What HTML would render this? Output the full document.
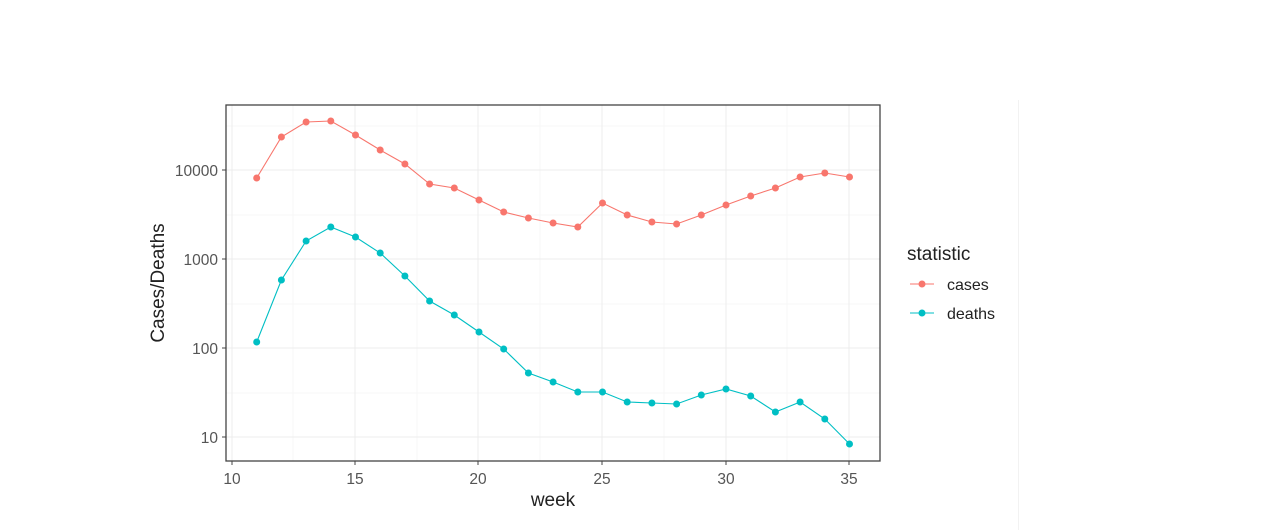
<!DOCTYPE html>
<html><head><style>body{margin:0;background:#fff}svg{display:block}</style></head><body>
<svg width="1280" height="530" xmlns="http://www.w3.org/2000/svg" font-family="Liberation Sans, sans-serif">
<rect width="1280" height="530" fill="#fff"/>
<line x1="1018.5" y1="100" x2="1018.5" y2="530" stroke="#f2f2f2" stroke-width="1"/>
<g stroke="#f5f5f5" stroke-width="0.8">
<line x1="226" x2="880" y1="126" y2="126"/><line x1="226" x2="880" y1="215" y2="215"/><line x1="226" x2="880" y1="304" y2="304"/><line x1="226" x2="880" y1="393" y2="393"/>
<line y1="105" y2="461" x1="293" x2="293"/><line y1="105" y2="461" x1="417" x2="417"/><line y1="105" y2="461" x1="540" x2="540"/><line y1="105" y2="461" x1="664" x2="664"/><line y1="105" y2="461" x1="787" x2="787"/>
</g>
<g stroke="#ececec" stroke-width="1">
<line x1="226" x2="880" y1="170" y2="170"/><line x1="226" x2="880" y1="259" y2="259"/><line x1="226" x2="880" y1="348" y2="348"/><line x1="226" x2="880" y1="437" y2="437"/>
<line y1="105" y2="461" x1="232" x2="232"/><line y1="105" y2="461" x1="355" x2="355"/><line y1="105" y2="461" x1="478" x2="478"/><line y1="105" y2="461" x1="602" x2="602"/><line y1="105" y2="461" x1="726" x2="726"/><line y1="105" y2="461" x1="849" x2="849"/>
</g>
<rect x="226" y="105" width="654" height="356" fill="none" stroke="#444" stroke-width="1.3"/>
<g stroke="#444" stroke-width="1">
<line x1="222" x2="226" y1="170" y2="170"/><line x1="222" x2="226" y1="259" y2="259"/><line x1="222" x2="226" y1="348" y2="348"/><line x1="222" x2="226" y1="437" y2="437"/>
<line y1="461" y2="465" x1="232" x2="232"/><line y1="461" y2="465" x1="355" x2="355"/><line y1="461" y2="465" x1="478" x2="478"/><line y1="461" y2="465" x1="602" x2="602"/><line y1="461" y2="465" x1="726" x2="726"/><line y1="461" y2="465" x1="849" x2="849"/>
</g>
<g fill="#555" font-size="15.5" text-anchor="end">
<text x="218" y="176">10000</text><text x="218" y="265">1000</text><text x="218" y="354">100</text><text x="218" y="443">10</text>
</g>
<g fill="#555" font-size="15.5" text-anchor="middle">
<text x="232" y="484">10</text><text x="355" y="484">15</text><text x="478" y="484">20</text><text x="602" y="484">25</text><text x="726" y="484">30</text><text x="849" y="484">35</text>
</g>
<text x="553" y="506" font-size="19" text-anchor="middle" fill="#222">week</text>
<text transform="translate(164,283) rotate(-90)" font-size="19" text-anchor="middle" fill="#222">Cases/Deaths</text>
<polyline fill="none" stroke="#F8766D" stroke-width="1.1" points="256.7,178 281.4,137 306.1,122 330.8,121 355.5,135 380.2,150 404.9,164 429.6,184 454.3,188 479,200 503.7,212 528.4,218 553.1,223 577.8,227 602.5,203 627.2,215 651.9,222 676.6,224 701.3,215 726,205 750.7,196 775.4,188 800.1,177 824.8,173 849.5,177"/>
<g fill="#F8766D">
<circle cx="256.7" cy="178" r="3.5"/><circle cx="281.4" cy="137" r="3.5"/><circle cx="306.1" cy="122" r="3.5"/><circle cx="330.8" cy="121" r="3.5"/><circle cx="355.5" cy="135" r="3.5"/><circle cx="380.2" cy="150" r="3.5"/><circle cx="404.9" cy="164" r="3.5"/><circle cx="429.6" cy="184" r="3.5"/><circle cx="454.3" cy="188" r="3.5"/><circle cx="479" cy="200" r="3.5"/><circle cx="503.7" cy="212" r="3.5"/><circle cx="528.4" cy="218" r="3.5"/><circle cx="553.1" cy="223" r="3.5"/><circle cx="577.8" cy="227" r="3.5"/><circle cx="602.5" cy="203" r="3.5"/><circle cx="627.2" cy="215" r="3.5"/><circle cx="651.9" cy="222" r="3.5"/><circle cx="676.6" cy="224" r="3.5"/><circle cx="701.3" cy="215" r="3.5"/><circle cx="726" cy="205" r="3.5"/><circle cx="750.7" cy="196" r="3.5"/><circle cx="775.4" cy="188" r="3.5"/><circle cx="800.1" cy="177" r="3.5"/><circle cx="824.8" cy="173" r="3.5"/><circle cx="849.5" cy="177" r="3.5"/>
</g>
<polyline fill="none" stroke="#00BFC4" stroke-width="1.1" points="256.7,342 281.4,280 306.1,241 330.8,227 355.5,237 380.2,253 404.9,276 429.6,301 454.3,315 479,332 503.7,349 528.4,373 553.1,382 577.8,392 602.5,392 627.2,402 651.9,403 676.6,404 701.3,395 726,389 750.7,396 775.4,412 800.1,402 824.8,419 849.5,444"/>
<g fill="#00BFC4">
<circle cx="256.7" cy="342" r="3.5"/><circle cx="281.4" cy="280" r="3.5"/><circle cx="306.1" cy="241" r="3.5"/><circle cx="330.8" cy="227" r="3.5"/><circle cx="355.5" cy="237" r="3.5"/><circle cx="380.2" cy="253" r="3.5"/><circle cx="404.9" cy="276" r="3.5"/><circle cx="429.6" cy="301" r="3.5"/><circle cx="454.3" cy="315" r="3.5"/><circle cx="479" cy="332" r="3.5"/><circle cx="503.7" cy="349" r="3.5"/><circle cx="528.4" cy="373" r="3.5"/><circle cx="553.1" cy="382" r="3.5"/><circle cx="577.8" cy="392" r="3.5"/><circle cx="602.5" cy="392" r="3.5"/><circle cx="627.2" cy="402" r="3.5"/><circle cx="651.9" cy="403" r="3.5"/><circle cx="676.6" cy="404" r="3.5"/><circle cx="701.3" cy="395" r="3.5"/><circle cx="726" cy="389" r="3.5"/><circle cx="750.7" cy="396" r="3.5"/><circle cx="775.4" cy="412" r="3.5"/><circle cx="800.1" cy="402" r="3.5"/><circle cx="824.8" cy="419" r="3.5"/><circle cx="849.5" cy="444" r="3.5"/>
</g>
<text x="907" y="260" font-size="19" fill="#222">statistic</text>
<line x1="910" x2="934" y1="284" y2="284" stroke="#F8766D" stroke-width="1.1"/><circle cx="922" cy="284" r="3.5" fill="#F8766D"/>
<text x="947" y="290" font-size="16" fill="#222">cases</text>
<line x1="910" x2="934" y1="313" y2="313" stroke="#00BFC4" stroke-width="1.1"/><circle cx="922" cy="313" r="3.5" fill="#00BFC4"/>
<text x="947" y="319" font-size="16" fill="#222">deaths</text>
</svg>
</body></html>
